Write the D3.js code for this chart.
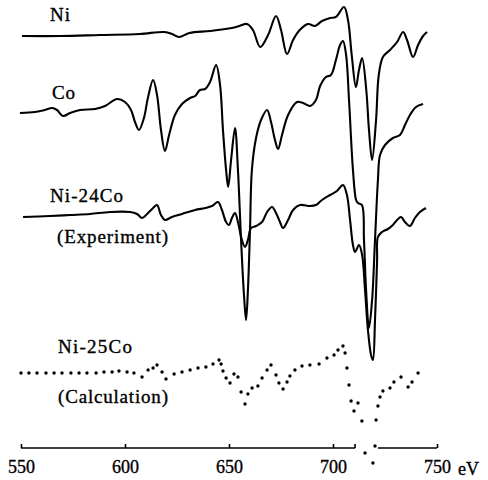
<!DOCTYPE html>
<html>
<head>
<meta charset="utf-8">
<script src="https://cdn.jsdelivr.net/npm/d3@7"></script>
<style>
  body { margin: 0; background: #fff; }
  svg { display: block; }
</style>
</head>
<body>
<div id="chart"></div>
<script>
// x axis
const xTicks = [550, 600, 650, 700, 750];
const axisSegments = [[550, 710.6], [721.6, 750]];

// spectra: [energy eV, relative intensity]
const niData = [[550.5,0],[568.8,0],[588,1],[607,2],[619,4],[622.6,2],[626,-1],[631,3],[641,5],[651.4,8],[655,10],[658.7,12],[661.5,6],[665,-11],[668.8,1],[672.6,20],[675,6],[677.9,-18],[680.8,-4],[684,6],[688,12],[691.3,10],[694.7,15],[698.6,18],[701.4,19],[705.3,29],[707.2,16],[709,-19],[711,-51],[712.5,-34],[714,-22],[716,-54],[717.3,-94],[718.8,-124],[720.7,-84],[722,-39],[724,-21],[727.4,-14],[730.8,-6],[733.7,4],[735.6,-4],[738.5,-21],[740.9,-9],[743.3,0],[745.2,4]];
const coData = [[549.5,0],[556.7,1],[561.5,3],[564.9,5],[567.3,3],[570.2,-3],[573.6,0],[578.4,3],[585.6,4],[590.4,7],[596.2,14],[600,11],[602.9,3],[604.8,-9],[606.7,-17],[609.1,-5],[611,15],[613.5,33],[615.4,18],[617.3,-17],[619.2,-38],[621.2,-22],[624,-2],[627.4,9],[631.3,15],[633.7,17],[636,23],[638.5,24],[640.9,31],[643.8,48],[645.7,28],[647.1,-17],[648.6,-57],[649.6,-74],[651,-47],[652.9,-15],[654.3,-57],[655.8,-127],[657.2,-182],[658.2,-207],[659.1,-177],[660.1,-117],[661,-57],[663,-25],[665.4,-7],[668.3,3],[670.2,-9],[672.1,-27],[673.6,-36],[675.5,-22],[678.4,-2],[682.7,11],[685.6,10],[689,7],[691.8,13],[693.8,27],[696.6,36],[699,38],[701.4,53],[703.4,68],[704.8,72],[706.3,58],[707.7,13],[709.6,-57],[711.1,-87],[712,-90],[713.9,-92],[714.9,-127],[715.9,-177],[717.3,-215],[718.8,-187],[720.2,-127],[721.6,-67],[722.6,-42],[725,-32],[728.8,-25],[732.2,-22],[734.6,-12],[737,-2],[739.9,6],[743.3,9]];
const ni24CoData = [[551,0],[564,1],[573.6,2],[583.2,3],[592.8,5],[602.4,5],[605.8,3],[608.2,-1],[610.6,3],[613.5,9],[615.4,12],[617.3,2],[619.2,-3],[622.6,0],[627.4,3],[633.7,7],[638.5,9],[641.8,11],[644.7,15],[646.6,7],[648.6,-5],[650,-8],[651.4,-1],[652.9,4],[654.3,-5],[656.2,-23],[657.7,-30],[659.1,-23],[660.6,-11],[663,-9],[665.9,-5],[668.3,5],[670.7,10],[672.6,4],[674.5,-5],[676,-11],[678.4,-3],[680.8,7],[684.1,12],[689,11],[691.8,12],[694.7,17],[698.6,22],[701.9,26],[704.8,32],[706.7,22],[708.2,-3],[709.6,-28],[710.6,-35],[712.5,-28],[714,-38],[715.4,-73],[716.8,-113],[718.3,-138],[719.2,-143],[720.2,-103],[721.2,-43],[721.6,-20],[723.6,-15],[726.4,-12],[728.8,-8],[730.8,-3],[732.7,0],[734.6,-5],[737,-9],[739.4,-1],[741.8,5],[744.7,9]];
const calcData = [[550,0],[553.8,0],[557.7,0],[562,0],[565.9,0],[569.7,0],[574,0],[577.9,0],[581.7,0],[586.1,0],[589.9,1],[593.8,1],[597.1,2],[601,1],[604.3,0],[608.2,-4],[611.1,3],[613.5,5],[615.4,8],[617.8,1],[619.7,-6],[623.6,-1],[627.4,1],[631.3,3],[635.1,5],[638.9,6],[642.3,9],[645.2,13],[646.2,9],[647.1,2],[648.6,-5],[650.5,-10],[652.4,-1],[654.3,-4],[655.8,-19],[657.7,-31],[659.1,-21],[661.1,-15],[663.9,-13],[665.9,-5],[668.3,3],[670.2,8],[672.6,-2],[674,-10],[676,-16],[677.9,-9],[679.3,-3],[681.7,3],[685.1,7],[688.9,8],[693.3,9],[697.1,15],[700.5,18],[702.4,23],[704.8,27],[705.8,20],[706.7,5],[707.7,-12],[708.7,-28],[710.1,-38],[712,-30],[713.9,-48],[715.4,-80],[719.2,-90],[720.2,-73],[720.7,-47],[721.6,-33],[722.6,-24],[724,-18],[727.4,-15],[729.3,-9],[732.7,-4],[736.1,-14],[738,-9],[740.9,0]];

// vertical offset of each spectrum
const seriesOffsets = { ni: 412, co: 335, ni24: 231, calc: 75 };

const width = 488, height = 480;
const font = "'Liberation Serif', 'DejaVu Serif', serif";

const svg = d3.select("#chart").append("svg")
    .attr("width", width)
    .attr("height", height);

const x = d3.scaleLinear().domain([550, 750]).range([21, 437]);
const y = d3.scaleLinear().domain([0, 448]).range([448, 0]);

function drawLine(data, off) {
    const line = d3.line()
        .x(d => x(d[0]))
        .y(d => y(d[1] + off))
        .curve(d3.curveCatmullRom.alpha(0.5));
    svg.append("path")
        .datum(data)
        .attr("d", line)
        .attr("fill", "none")
        .attr("stroke", "#000")
        .attr("stroke-width", 2.1)
        .attr("stroke-linejoin", "round");
}

drawLine(niData, seriesOffsets.ni);
drawLine(coData, seriesOffsets.co);
drawLine(ni24CoData, seriesOffsets.ni24);

// calculated curve as dots
svg.selectAll(".calc")
    .data(calcData)
    .enter().append("circle")
    .attr("class", "calc")
    .attr("cx", d => x(d[0]))
    .attr("cy", d => y(d[1] + seriesOffsets.calc))
    .attr("r", 1.7)
    .attr("fill", "#000");

// x axis (broken line)
const axisG = svg.append("g")
    .attr("transform", "translate(0,448)")
    .call(d3.axisBottom(x).tickValues(xTicks).tickSize(-4).tickPadding(12).tickSizeOuter(0));
axisG.select(".domain").remove();
axisG.selectAll(".tick line").attr("stroke", "#000").attr("stroke-width", 1.6);
axisG.selectAll("text")
    .attr("fill", "#000")
    .attr("stroke", "#000")
    .attr("stroke-width", 0.35)
    .style("font-family", font)
    .style("font-size", "18px");

axisSegments.forEach(s => {
    axisG.append("line")
        .attr("x1", x(s[0])).attr("x2", x(s[1]))
        .attr("y1", 0).attr("y2", 0)
        .attr("stroke", "#000").attr("stroke-width", 1.6);
});
axisG.append("line")
    .attr("x1", x(axisSegments[0][1])).attr("x2", x(axisSegments[0][1]))
    .attr("y1", 0).attr("y2", -4)
    .attr("stroke", "#000").attr("stroke-width", 1.6);

svg.append("text")
    .attr("x", 458).attr("y", 475)
    .text("eV")
    .attr("stroke", "#000").attr("stroke-width", 0.35)
    .style("font-family", font).style("font-size", "18px");

// series labels
const labels = [
    { t: "Ni", x: 50, y: 21, w: 20 },
    { t: "Co", x: 52, y: 99, w: 23 },
    { t: "Ni-24Co", x: 50, y: 202, w: 73 },
    { t: "(Experiment)", x: 57, y: 243, w: 111 },
    { t: "Ni-25Co", x: 58, y: 353, w: 74 },
    { t: "(Calculation)", x: 58, y: 403, w: 110 }
];
svg.selectAll(".lbl")
    .data(labels)
    .enter().append("text")
    .attr("class", "lbl")
    .attr("x", d => d.x)
    .attr("y", d => d.y)
    .attr("textLength", d => d.w)
    .attr("lengthAdjust", "spacing")
    .attr("stroke", "#000")
    .attr("stroke-width", 0.35)
    .text(d => d.t)
    .style("font-family", font)
    .style("font-size", "19px");
</script>
</body>
</html>
